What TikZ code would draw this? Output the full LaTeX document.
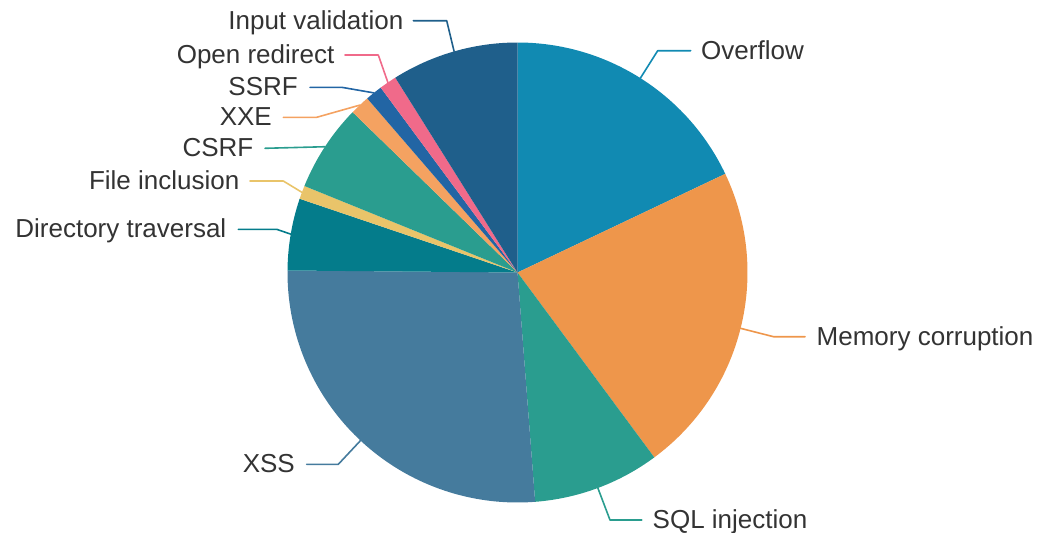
\documentclass[tikz,border=0pt]{standalone}
\usepackage{fontspec}
\setmainfont{Liberation Sans}
\usetikzlibrary{calc}
\definecolor{cOverflow}{HTML}{118AB2}
\definecolor{cMemory}{HTML}{EE964B}
\definecolor{cSQL}{HTML}{2A9D8F}
\definecolor{cXSS}{HTML}{457B9D}
\definecolor{cDir}{HTML}{047C8B}
\definecolor{cFile}{HTML}{E9C46A}
\definecolor{cCSRF}{HTML}{2A9D8F}
\definecolor{cXXE}{HTML}{F4A261}
\definecolor{cSSRF}{HTML}{2265A4}
\definecolor{cOpen}{HTML}{F06A8A}
\definecolor{cInput}{HTML}{1F5F8B}
\definecolor{labeltext}{HTML}{333333}
\begin{document}
\begin{tikzpicture}[x=1pt,y=1pt,
  lbl/.style={font=\fontsize{26}{30}\selectfont, text=labeltext, inner sep=0pt},
  leader/.style={line width=1.6pt, line join=round, line cap=round}]
\useasboundingbox (0,0) rectangle (1037,-533);
\coordinate (C) at (517.5,-272.5);
\def\R{230}
% pie slices, clockwise from 12 o'clock
\foreach \s/\e/\c in {90/25.4/cOverflow, 25.4/-53.5/cMemory, -53.5/-85.6/cSQL,
  -85.6/-180.5/cXSS, 179.5/161.3/cDir, 161.3/157.9/cFile, 157.9/135.8/cCSRF,
  135.8/130.8/cXXE, 130.8/126.5/cSSRF, 126.5/122.1/cOpen, 122.1/90/cInput}
  \fill[\c] (C) -- ++(\s:\R) arc[start angle=\s, end angle=\e, radius=\R] -- cycle;

% leader start points on the rim (slice mid angles)
\coordinate (eOverflow) at ($(C)+(57.7:\R)$);
\coordinate (eMemory)   at ($(C)+(-14.05:\R)$);
\coordinate (eSQL)      at ($(C)+(-69.55:\R)$);
\coordinate (eXSS)      at ($(C)+(-133.05:\R)$);
\coordinate (eDir)      at ($(C)+(170.4:\R)$);
\coordinate (eFile)     at ($(C)+(159.6:\R)$);
\coordinate (eCSRF)     at ($(C)+(146.85:\R)$);
\coordinate (eXXE)      at ($(C)+(133.3:\R)$);
\coordinate (eSSRF)     at ($(C)+(128.65:\R)$);
\coordinate (eOpen)     at ($(C)+(124.3:\R)$);
\coordinate (eInput)    at ($(C)+(106:\R)$);

% elbows and free ends of the leaders
\coordinate (kOverflow) at (657.7,-50.7);  \coordinate (tOverflow) at (690.7,-50.7);
\coordinate (kMemory)   at (773.5,-336.7); \coordinate (tMemory)   at (805,-336.7);
\coordinate (kSQL)      at (610,-520);     \coordinate (tSQL)      at (641.7,-520);
\coordinate (kXSS)      at (338.3,-464.3); \coordinate (tXSS)      at (306.7,-464.3);
\coordinate (kDir)      at (276.7,-229.3); \coordinate (tDir)      at (238.3,-229.3);
\coordinate (kFile)     at (283.3,-181);   \coordinate (tFile)     at (250,-181);
\coordinate (tCSRF)     at (265,-148.3);
\coordinate (kXXE)      at (316.7,-117.3); \coordinate (tXXE)      at (283.3,-117.3);
\coordinate (kSSRF)     at (341.7,-87.3);  \coordinate (tSSRF)     at (310,-87.3);
\coordinate (kOpen)     at (378.3,-55);    \coordinate (tOpen)     at (345,-55);
\coordinate (kInput)    at (446.7,-20.7);  \coordinate (tInput)    at (413.3,-20.7);

% labels
\node[lbl, anchor=base west] (lOverflow) at (701,-59.2)   {Overflow};
\node[lbl, anchor=base west] (lMemory)   at (816.5,-345.2) {Memory corruption};
\node[lbl, anchor=base west] (lSQL)      at (652.5,-528.5) {SQL injection};
\node[lbl, anchor=base east] (lXSS)      at (295,-472.8)   {XSS};
\node[lbl, anchor=base east] (lDir)      at (226.5,-237.8) {Directory traversal};
\node[lbl, anchor=base east] (lFile)     at (239.5,-189.5) {File inclusion};
\node[lbl, anchor=base east] (lCSRF)     at (253.5,-156.8) {CSRF};
\node[lbl, anchor=base east] (lXXE)      at (272,-125.8)   {XXE};
\node[lbl, anchor=base east] (lSSRF)     at (298,-95.8)    {SSRF};
\node[lbl, anchor=base east] (lOpen)     at (334.5,-63.5)  {Open redirect};
\node[lbl, anchor=base east] (lInput)    at (403.5,-29.2)  {Input validation};

% leader lines
\draw[leader, cOverflow] (eOverflow) -- (kOverflow) -- (tOverflow);
\draw[leader, cMemory]   (eMemory) -- (kMemory) -- (tMemory);
\draw[leader, cSQL]      (eSQL) -- (kSQL) -- (tSQL);
\draw[leader, cXSS]      (eXSS) -- (kXSS) -- (tXSS);
\draw[leader, cDir]      (eDir) -- (kDir) -- (tDir);
\draw[leader, cFile]     (eFile) -- (kFile) -- (tFile);
\draw[leader, cCSRF]     (eCSRF) -- (tCSRF);
\draw[leader, cXXE]      (eXXE) -- (kXXE) -- (tXXE);
\draw[leader, cSSRF]     (eSSRF) -- (kSSRF) -- (tSSRF);
\draw[leader, cOpen]     (eOpen) -- (kOpen) -- (tOpen);
\draw[leader, cInput]    (eInput) -- (kInput) -- (tInput);
\end{tikzpicture}
\end{document}
